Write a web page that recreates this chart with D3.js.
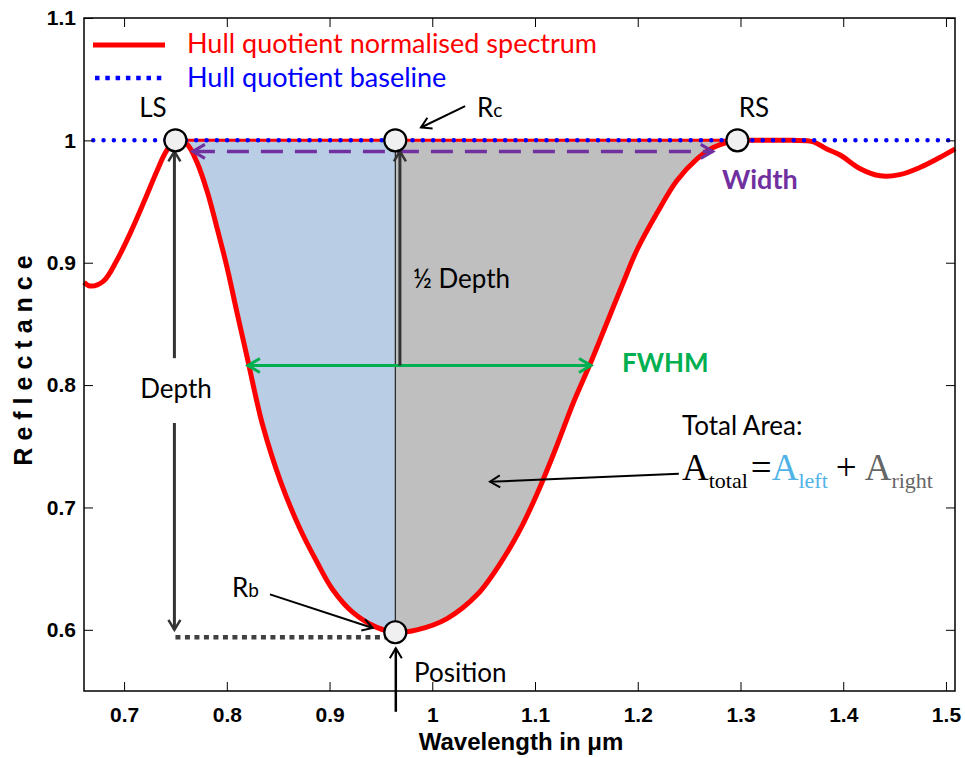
<!DOCTYPE html>
<html>
<head>
<meta charset="utf-8">
<script src="https://cdn.jsdelivr.net/npm/d3@7"></script>
<style>
  body { margin: 0; background: #fff; }
  .note { font-family: Lato, "Open Sans", sans-serif; }
</style>
</head>
<body>
<div id="my_dataviz"></div>
<script>
// spectrum
const wavelength = [0.661,0.667,0.680,0.693,0.707,0.720,0.732,0.741,0.750,0.761,0.771,0.781,0.790,0.800,0.810,0.820,0.827,0.835,0.852,0.871,0.888,0.903,0.923,0.946,0.964,0.985,1.014,1.044,1.069,1.088,1.105,1.121,1.137,1.154,1.170,1.186,1.199,1.219,1.238,1.258,1.273,1.290,1.297,1.320,1.350,1.370,1.384,1.397,1.416,1.436,1.455,1.475,1.494,1.509];
const reflectance = [0.884,0.881,0.885,0.902,0.926,0.951,0.975,0.991,1.000,0.997,0.982,0.958,0.930,0.897,0.859,0.822,0.795,0.767,0.722,0.683,0.655,0.633,0.614,0.602,0.598,0.600,0.609,0.629,0.658,0.686,0.717,0.750,0.785,0.818,0.851,0.884,0.910,0.941,0.967,0.985,0.994,0.999,1.000,1.000,1.000,0.999,0.993,0.988,0.977,0.971,0.972,0.978,0.986,0.993];

// baseline (hull quotient = 1)
const baselineX = [0.670, 1.509];
const baselineY = 1.0;

// feature points: LS, Rc, RS, Rb
const pointNames = ["LS", "Rc", "RS", "Rb"];
const pointX = [0.750, 0.964, 1.297, 0.964];
const pointY = [1.000, 1.000, 1.000, 0.598];

// width / FWHM levels
const widthRange = [0.767, 1.273];
const widthLevel = 0.991;
const fwhmRange = [0.8205, 1.1545];
const fwhmLevel = 0.816;

const xTicks = [0.7, 0.8, 0.9, 1.0, 1.1, 1.2, 1.3, 1.4, 1.5];
const yTicks = [0.6, 0.7, 0.8, 0.9, 1.0, 1.1];

const data = wavelength.map((w, i) => ({w: w, r: reflectance[i]}));

const W = 965, H = 758;
const margin = {top: 18, right: 10, bottom: 67, left: 84},
    width = W - margin.left - margin.right,
    height = H - margin.top - margin.bottom;

const svg = d3.select("#my_dataviz")
  .append("svg")
    .attr("width", W)
    .attr("height", H);

const x = d3.scaleLinear().domain([0.661, 1.5088]).range([margin.left, margin.left + width]);
const y = d3.scaleLinear().domain([0.55, 1.1]).range([margin.top + height, margin.top]);

// arrow heads
const defs = svg.append("defs");
function marker(id, color, len, half, sw) {
  defs.append("marker")
      .attr("id", id)
      .attr("viewBox", `${-len-3} ${-half-3} ${len+6} ${2*half+6}`)
      .attr("refX", 0).attr("refY", 0)
      .attr("markerWidth", len+6).attr("markerHeight", 2*half+6)
      .attr("markerUnits", "userSpaceOnUse")
      .attr("orient", "auto-start-reverse")
    .append("path")
      .attr("d", `M${-len},${-half}L0,0L${-len},${half}`)
      .attr("fill", "none")
      .attr("stroke", color)
      .attr("stroke-width", sw);
}
marker("headGreen", "#00b050", 12, 7, 3);
marker("headPurple", "#7030a0", 12, 7, 3);
marker("headDark", "#333333", 10, 6, 2.5);
marker("headBlack", "#000000", 10, 6, 2);

const curve = d3.curveCatmullRom.alpha(0.5);

// fills left and right of the band position
const area = d3.area()
    .x(d => x(d.w))
    .y0(y(1))
    .y1(d => y(d.r))
    .curve(curve);

svg.append("path")
    .datum(data.filter(d => d.w >= pointX[0] && d.w <= pointX[1]))
    .attr("fill", "#b9cde5")
    .attr("d", area);

svg.append("path")
    .datum(data.filter(d => d.w >= pointX[1] && d.w <= pointX[2]))
    .attr("fill", "#bfbfbf")
    .attr("d", area);

// thin split line at the position
svg.append("line")
    .attr("x1", x(pointX[1])).attr("x2", x(pointX[1]))
    .attr("y1", y(1)).attr("y2", y(pointY[3]))
    .attr("stroke", "#000").attr("stroke-width", 1);

// dotted depth floor
svg.append("line")
    .attr("x1", x(pointX[0])).attr("x2", x(pointX[3]))
    .attr("y1", y(0.594)).attr("y2", y(0.594))
    .attr("stroke", "#404040").attr("stroke-width", 4.5)
    .attr("stroke-dasharray", "5,4.5");

// hull line between shoulders
svg.append("line")
    .attr("x1", x(pointX[0])).attr("x2", x(pointX[2]))
    .attr("y1", y(1)).attr("y2", y(1))
    .attr("stroke", "red").attr("stroke-width", 3);

// the spectrum
svg.append("path")
    .datum(data)
    .attr("fill", "none")
    .attr("stroke", "red")
    .attr("stroke-width", 5)
    .attr("stroke-linejoin", "round")
    .attr("d", d3.line()
      .x(d => x(d.w))
      .y(d => y(d.r))
      .curve(curve));

// baseline
svg.append("line")
    .attr("x1", x(baselineX[0])).attr("x2", x(baselineX[1]))
    .attr("y1", y(baselineY)).attr("y2", y(baselineY))
    .attr("stroke", "blue").attr("stroke-width", 4.5)
    .attr("stroke-linecap", "round")
    .attr("stroke-dasharray", "0,10.3");

// width arrow (dashed, purple)
svg.append("line")
    .attr("x1", x(widthRange[0])).attr("x2", x(widthRange[1]))
    .attr("y1", y(widthLevel)).attr("y2", y(widthLevel))
    .attr("stroke", "#7030a0").attr("stroke-width", 3.5)
    .attr("stroke-dasharray", "22,12")
    .attr("marker-start", "url(#headPurple)")
    .attr("marker-end", "url(#headPurple)");

// FWHM arrow
svg.append("line")
    .attr("x1", x(fwhmRange[0])).attr("x2", x(fwhmRange[1]))
    .attr("y1", y(fwhmLevel)).attr("y2", y(fwhmLevel))
    .attr("stroke", "#00b050").attr("stroke-width", 3)
    .attr("marker-start", "url(#headGreen)")
    .attr("marker-end", "url(#headGreen)");

// depth arrows
function arrow(x1, y1, x2, y2, color, sw, head) {
  svg.append("line")
      .attr("x1", x1).attr("y1", y1).attr("x2", x2).attr("y2", y2)
      .attr("stroke", color).attr("stroke-width", sw)
      .attr("marker-end", `url(#${head})`);
}
arrow(x(0.749), y(0.822), x(0.749), y(0.991), "#333333", 3, "headDark");
arrow(x(0.749), y(0.769), x(0.749), y(0.600), "#333333", 3, "headDark");
// half depth
arrow(x(0.9685), y(0.816), x(0.9685), y(0.991), "#333333", 3, "headDark");
// Rc, Rb, position, total area pointers
arrow(x(1.032), y(1.028), x(0.989), y(1.0105), "#000", 2, "headBlack");
arrow(x(0.842), y(0.629), x(0.942), y(0.6015), "#000", 2, "headBlack");
arrow(x(0.9645), y(0.533), x(0.9645), y(0.585), "#000", 2.5, "headBlack");
arrow(x(1.240), y(0.7275), x(1.0562), y(0.721), "#000", 2, "headBlack");

// feature circles
svg.selectAll("circle.pt")
  .data(pointNames)
  .join("circle")
    .attr("class", "pt")
    .attr("cx", (d, i) => x(pointX[i]))
    .attr("cy", (d, i) => y(pointY[i]))
    .attr("r", 11)
    .attr("fill", "#f0f0f0")
    .attr("stroke", "#000")
    .attr("stroke-width", 2.2);

// box and axes
svg.append("rect")
    .attr("x", margin.left).attr("y", margin.top)
    .attr("width", width).attr("height", height)
    .attr("fill", "none").attr("stroke", "#000").attr("stroke-width", 1.5);

const tickFont = g => g.selectAll("text")
    .attr("font-family", "'Liberation Sans', Arial, sans-serif")
    .attr("font-weight", "bold")
    .attr("font-size", 21)
    .attr("fill", "#000");

svg.append("g")
    .attr("transform", `translate(0,${margin.top + height})`)
    .call(d3.axisBottom(x).tickValues(xTicks).tickSizeInner(-9).tickSizeOuter(0).tickPadding(16)
      .tickFormat(d3.format("~g")))
    .call(g => g.select(".domain").remove())
    .call(tickFont);

svg.append("g")
    .attr("transform", `translate(${margin.left},0)`)
    .call(d3.axisLeft(y).tickValues(yTicks).tickSizeInner(-9).tickSizeOuter(0).tickPadding(8)
      .tickFormat(d3.format("~g")))
    .call(g => g.select(".domain").remove())
    .call(tickFont);

svg.append("g")
    .attr("transform", `translate(0,${margin.top})`)
    .call(d3.axisTop(x).tickValues(xTicks).tickSizeInner(-9).tickSizeOuter(0).tickFormat(""))
    .call(g => g.select(".domain").remove());

svg.append("g")
    .attr("transform", `translate(${margin.left + width},0)`)
    .call(d3.axisRight(y).tickValues(yTicks).tickSizeInner(-9).tickSizeOuter(0).tickFormat(""))
    .call(g => g.select(".domain").remove());

// axis titles
svg.append("text")
    .attr("x", 521).attr("y", 750)
    .attr("text-anchor", "middle")
    .attr("font-family", "'Liberation Sans', Arial, sans-serif")
    .attr("font-weight", "bold").attr("font-size", 24)
    .text("Wavelength in μm");

svg.append("text")
    .attr("transform", "translate(32,357) rotate(-90)")
    .attr("text-anchor", "middle")
    .attr("font-family", "'Liberation Sans', Arial, sans-serif")
    .attr("font-weight", "bold").attr("font-size", 25)
    .attr("letter-spacing", 7)
    .text("Reflectance");

// legend
svg.append("line")
    .attr("x1", 93).attr("x2", 165).attr("y1", 45).attr("y2", 45)
    .attr("stroke", "red").attr("stroke-width", 5);
svg.append("line")
    .attr("x1", 95).attr("x2", 165).attr("y1", 78).attr("y2", 78)
    .attr("stroke", "blue").attr("stroke-width", 4.5)
    .attr("stroke-dasharray", "4.5,5.8");
svg.append("text").attr("class", "note")
    .attr("x", 187).attr("y", 53).attr("font-size", 27).attr("fill", "red")
    .text("Hull quotient normalised spectrum");
svg.append("text").attr("class", "note")
    .attr("x", 187).attr("y", 87).attr("font-size", 27).attr("fill", "blue")
    .text("Hull quotient baseline");

// annotation text
function note(tx, ty, str, opts = {}) {
  return svg.append("text").attr("class", "note")
      .attr("x", tx).attr("y", ty)
      .attr("font-size", opts.size || 26)
      .attr("font-weight", opts.weight || "normal")
      .attr("fill", opts.color || "#000")
      .attr("text-anchor", opts.anchor || "start")
      .text(str);
}
note(153, 117, "LS", {anchor: "middle"});
note(754, 117, "RS", {anchor: "middle"});
note(176, 398, "Depth", {anchor: "middle"});
note(413, 288, "½ Depth");
note(414, 682, "Position");
note(682, 435, "Total Area:");
note(722, 189, "Width", {weight: "bold", color: "#7030a0", size: 27});
note(622, 372, "FWHM", {weight: "bold", color: "#00b050", size: 26});

const rc = note(477, 117, "R");
rc.append("tspan").attr("font-size", 19).text("c");
const rb = note(232, 597, "R");
rb.append("tspan").attr("font-size", 19).text("b");

// formula A_total = A_left + A_right
const f = svg.append("text")
    .attr("x", 682).attr("y", 480)
    .attr("font-family", "'Liberation Serif', 'Times New Roman', serif")
    .attr("font-size", 37);
f.append("tspan").attr("fill", "#000").text("A");
f.append("tspan").attr("fill", "#000").attr("font-size", 22).attr("dy", 8).text("total");
f.append("tspan").attr("fill", "#000").attr("dy", -8).attr("dx", 3).text("=");
f.append("tspan").attr("fill", "#4fb3e8").text("A");
f.append("tspan").attr("fill", "#4fb3e8").attr("font-size", 22).attr("dy", 8).text("left");
f.append("tspan").attr("fill", "#000").attr("dy", -8).attr("dx", 8).text("+");
f.append("tspan").attr("fill", "#666666").attr("dx", 8).text("A");
f.append("tspan").attr("fill", "#666666").attr("font-size", 22).attr("dy", 8).text("right");
</script>
</body>
</html>
